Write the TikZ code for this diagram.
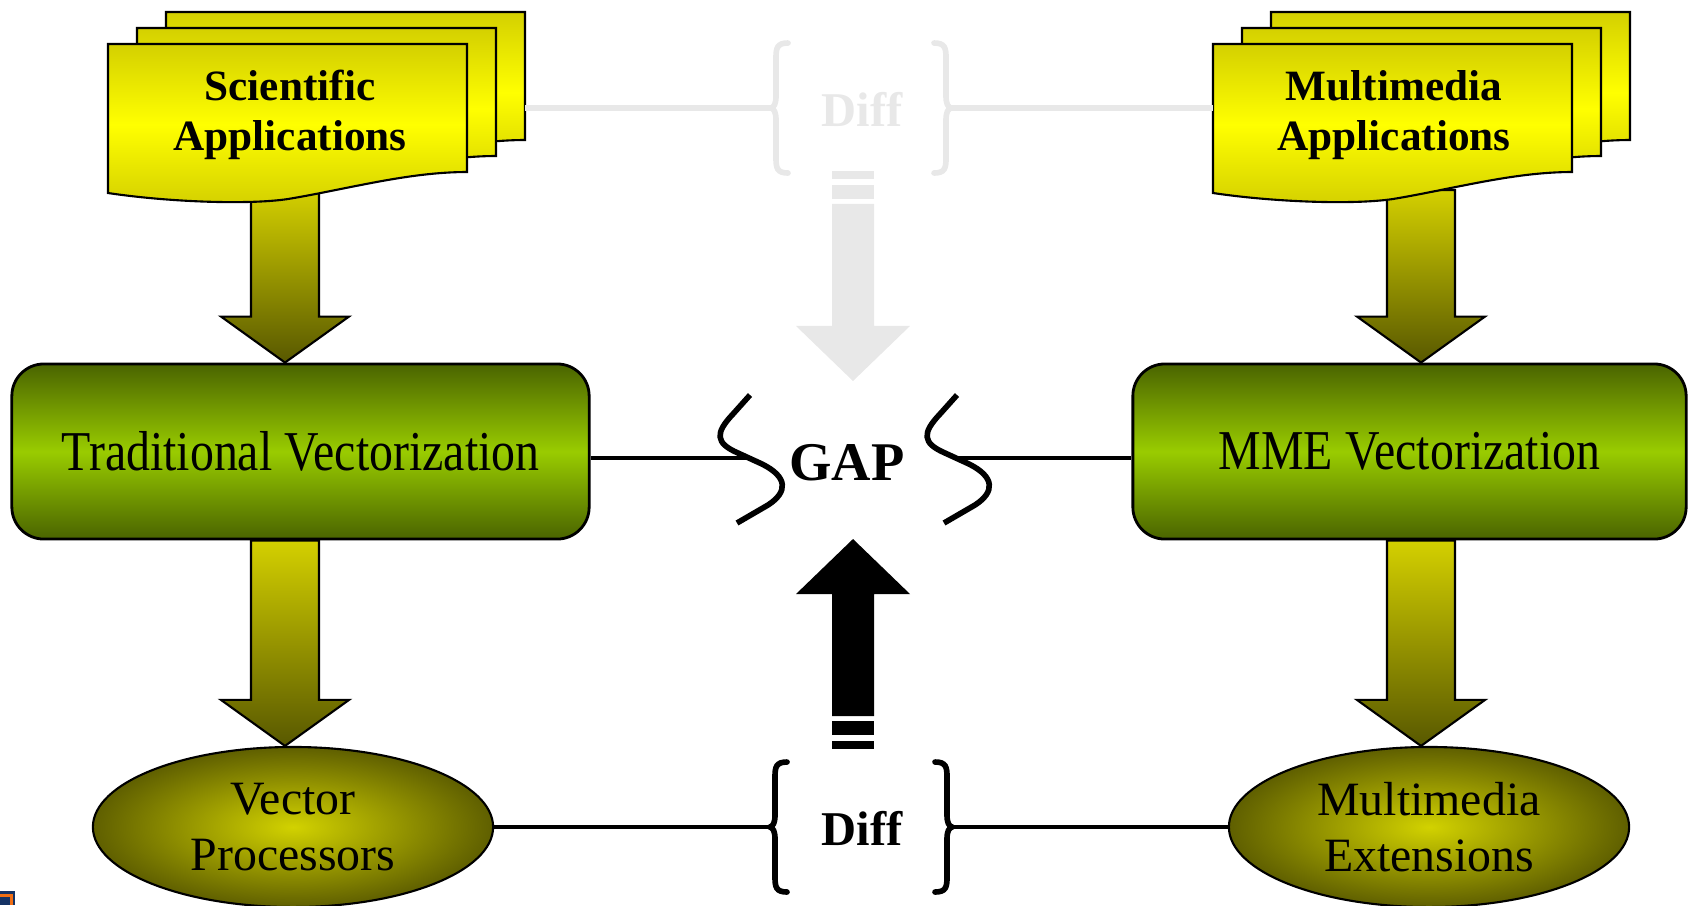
\documentclass[tikz,border=0pt]{standalone}
\usepackage{fontspec}
\setmainfont{Liberation Serif}
\newfontfamily\narrowserif{Liberation Serif}[FakeStretch=0.85]
\usepackage{xcolor}
\usetikzlibrary{shapes,calc,backgrounds}

\definecolor{sheetedge}{RGB}{212,208,0}
\definecolor{sheetcore}{RGB}{255,255,0}
\definecolor{shafttop}{RGB}{212,208,0}
\definecolor{shaftbot}{RGB}{88,88,0}
\definecolor{boxedge}{RGB}{74,100,0}
\definecolor{boxcore}{RGB}{153,204,0}
\definecolor{podcore}{RGB}{210,210,0}
\definecolor{podedge}{RGB}{95,95,0}
\definecolor{faded}{RGB}{232,232,232}
\definecolor{iconnavy}{RGB}{20,50,100}
\definecolor{iconorange}{RGB}{240,110,20}

% thick shaded arrow, straight down from #1 to the tip #2
\newcommand{\fatarrow}[2]{%
  \path[fatshaft] ($(#1)+(-34,0)$) -- ($(#2)+(-34,-46)$) -- ($(#2)+(-64,-46)$) -- (#2)
    -- ($(#2)+(64,-46)$) -- ($(#2)+(34,-46)$) -- ($(#1)+(34,0)$) -- cycle;}

% arrow with two bars at the tail, from #2 (tail) to #3 (tip)
\newcommand{\stripedarrow}[3][black]{%
  \fill[#1] ($(#2)+(-21,0)$) rectangle ($(#2)!0.038!(#3)+(21,0)$);
  \fill[#1] ($(#2)!0.067!(#3)+(-21,0)$) rectangle ($(#2)!0.133!(#3)+(21,0)$);
  \fill[#1] ($(#2)!0.157!(#3)+(-21,0)$) -- ($(#2)!0.738!(#3)+(-21,0)$)
    -- ($(#2)!0.738!(#3)+(-57,0)$) -- (#3) -- ($(#2)!0.738!(#3)+(57,0)$)
    -- ($(#2)!0.738!(#3)+(21,0)$) -- ($(#2)!0.157!(#3)+(21,0)$) -- cycle;}

\tikzset{
  sheet/.style={draw=black, line width=0.6pt, top color=sheetedge, bottom color=sheetedge, middle color=sheetcore},
  fatshaft/.style={draw=black, line width=0.6pt, top color=shafttop, bottom color=shaftbot},
  pics/appsheet/.style={code={
    \path[sheet] (0,0) -- (359,0) -- (359,128) .. controls (300,128) and (240,145) .. (180,155)
      .. controls (140,161) and (60,158) .. (0,149) -- cycle;
    \coordinate (-left) at (0,64);
    \coordinate (-right) at (359,64);
  }},
  pics/gapbreak/.style={code={
    \draw[line width=1.6pt] (0,0) -- (-17,19) .. controls (-35,38) and (-35,48) .. (-12,58)
      -- (12,69) .. controls (38,82) and (38,97) .. (18,110) -- (-13,128);
    \coordinate (-in) at (-1,63);
  }},
  pics/diffbrace/.style={code={
    \draw[line width=1.6pt, line cap=round] (17,-65) .. controls (6,-65) and (5,-60) .. (5,-50) -- (5,-12)
      .. controls (5,-4) and (3,-1) .. (0,0) .. controls (3,1) and (5,4) .. (5,12)
      -- (5,50) .. controls (5,60) and (6,65) .. (17,65);
    \coordinate (-tip) at (0,0);
  }},
}

\begin{document}
\begin{tikzpicture}[x=0.01cm, y=-0.01cm,
    vecbox/.style={draw, line width=0.8pt, rounded corners=0.32cm, minimum height=1.75cm,
      top color=boxedge, bottom color=boxedge, middle color=boxcore,
      font=\narrowserif\fontsize{16}{19}\selectfont},
    pod/.style={ellipse, draw, line width=0.6pt, minimum width=4cm, minimum height=1.6cm, inner sep=0pt,
      inner color=podcore, outer color=podedge, align=center, font=\fontsize{13.6}{15.9}\selectfont},
    applabel/.style={align=center, font=\bfseries\fontsize{12.3}{14.2}\selectfont},
    difftext/.style={font=\bfseries\fontsize{13.8}{16}\selectfont},
    link/.style={line width=1.4pt},
    fadedlink/.style={faded, line width=1.6pt}]
\useasboundingbox (0,0) rectangle (1688,905);

\node[vecbox, minimum width=5.77cm] (trad) at (300.5,451.5) {Traditional Vectorization};
\node[vecbox, minimum width=5.53cm] (mme) at (1409.5,451.5) {MME Vectorization};
\node[pod] (vec) at (293,827) {Vector\\Processors};
\node[pod] (mmx) at (1429,827) {Multimedia\\Extensions};

% stacked application sheets, back one first
\foreach \k in {2,1,0} {
  \pic (sci\k) at (108+29*\k, 44-16*\k) {appsheet};
  \pic (mma\k) at (1213+29*\k, 44-16*\k) {appsheet};
}
\node[applabel] (sci) at (290,115) {Scientific\\Applications};
\node[applabel] (mma) at (1394,115) {Multimedia\\Applications};

\coordinate (sci-foot) at (285,190);
\coordinate (mma-foot) at (1421,190);
\begin{scope}[on background layer]
  \fatarrow{sci-foot}{sci-foot |- trad.north}
  \fatarrow{sci-foot |- trad.south}{sci-foot |- vec.north}
  \fatarrow{mma-foot}{mma-foot |- mme.north}
  \fatarrow{mma-foot |- mme.south}{mma-foot |- mmx.north}
\end{scope}

% the gap between the two sides
\node[font=\bfseries\fontsize{15.5}{18}\selectfont] (gap) at (847,463) {GAP};
\pic (gl) at (750,395) {gapbreak};
\pic (gr) at (957,395) {gapbreak};
\draw[link] (gl-in -| trad.east) -- (gl-in);
\draw[link] (gr-in) -- (gr-in -| mme.west);

% Diff braces
\pic[faded] (lbt) at (771,108) {diffbrace};
\pic[faded, xscale=-1] (rbt) at (951,108) {diffbrace};
\node[difftext, text=faded] (diffhigh) at (862,109) {Diff};
\draw[fadedlink] (sci2-right |- lbt-tip) -- (lbt-tip);
\draw[fadedlink] (rbt-tip) -- (mma0-left |- rbt-tip);

\pic (lbb) at (770,827) {diffbrace};
\pic[xscale=-1] (rbb) at (952,827) {diffbrace};
\node[difftext] (difflow) at (862,828) {Diff};
\draw[link] (vec.east) -- (lbb-tip);
\draw[link] (rbb-tip) -- (mmx.west);

\coordinate (fade-tail) at (853,171);
\coordinate (fade-tip) at (853,381);
\coordinate (up-tail) at (853,749);
\coordinate (up-tip) at (853,539);
\stripedarrow[faded]{fade-tail}{fade-tip}
\stripedarrow{up-tail}{up-tip}

% corner icon
\fill[iconnavy] (0,891) rectangle (15,905);
\draw[iconorange, line width=0.7pt] (0,895.5) -- (11.5,895.5) -- (11.5,905);
\end{tikzpicture}
\end{document}
